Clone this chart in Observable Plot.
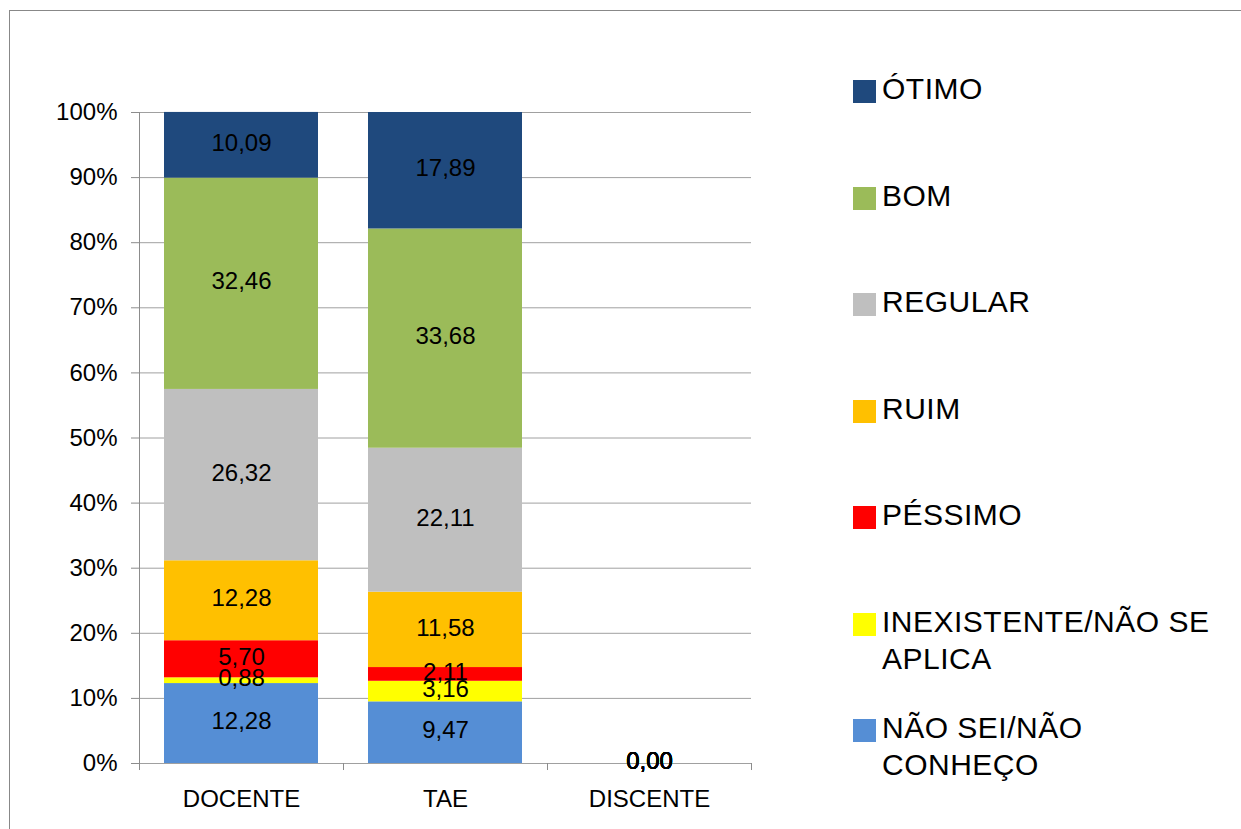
<!DOCTYPE html>
<html>
<head>
<meta charset="utf-8">
<script src="https://cdn.jsdelivr.net/npm/d3@7"></script>
<script src="https://cdn.jsdelivr.net/npm/@observablehq/plot@0.6"></script>
<style>
  html, body { margin: 0; padding: 0; background: #fff; }
  #wrap { position: relative; width: 1241px; height: 829px; overflow: hidden; font-family: "Liberation Sans", Arial, sans-serif; }
  #border { position: absolute; left: 9px; top: 10px; width: 1400px; height: 1000px; border-left: 1px solid #888; border-top: 1px solid #888; }
  #legend { position: absolute; left: 853px; top: 80px; }
  .item { position: relative; height: 106.5px; }
  .sw { position: absolute; left: 0; top: 0; width: 23px; height: 23px; }
  .lab { position: absolute; left: 29px; top: -10px; font-size: 30px; line-height: 37px; letter-spacing: 0.5px; color: #000; white-space: nowrap; }
  svg { position: absolute; left: 0; top: 0; }
</style>
</head>
<body>
<div id="wrap"><div id="border"></div></div>
<script>
const groups = ["DOCENTE", "TAE", "DISCENTE"];
const categories = ["NÃO SEI/NÃO CONHEÇO", "INEXISTENTE/NÃO SE APLICA", "PÉSSIMO", "RUIM", "REGULAR", "BOM", "ÓTIMO"];
const legendLabels = [["ÓTIMO"], ["BOM"], ["REGULAR"], ["RUIM"], ["PÉSSIMO"], ["INEXISTENTE/NÃO SE", "APLICA"], ["NÃO SEI/NÃO", "CONHEÇO"]];
const legendOrder = ["ÓTIMO", "BOM", "REGULAR", "RUIM", "PÉSSIMO", "INEXISTENTE/NÃO SE APLICA", "NÃO SEI/NÃO CONHEÇO"];
const docente = [12.28, 0.88, 5.70, 12.28, 26.32, 32.46, 10.09];
const tae = [9.47, 3.16, 2.11, 11.58, 22.11, 33.68, 17.89];
const discente = [0, 0, 0, 0, 0, 0, 0];
const colors = ["#558ED5", "#FFFF00", "#FF0000", "#FFC000", "#BFBFBF", "#9BBB59", "#1F497D"];
const yTicks = [0, 10, 20, 30, 40, 50, 60, 70, 80, 90, 100];

const series = [docente, tae, discente];
const data = groups.flatMap((g, gi) => categories.map((c, ci) => ({group: g, category: c, value: series[gi][ci]})));
const fmt = v => v.toFixed(2).replace(".", ",");

const chart = Plot.plot({
  width: 1241,
  height: 829,
  marginLeft: 139,
  marginRight: 490,
  marginTop: 112,
  marginBottom: 66,
  style: {fontFamily: "'Liberation Sans', Arial, sans-serif", background: "transparent", overflow: "visible"},
  x: {domain: groups, paddingInner: 0.245, paddingOuter: 0.1225, label: null},
  y: {domain: [0, 100], label: null},
  color: {domain: categories, range: colors},
  marks: [
    Plot.ruleY(yTicks, {stroke: "#a0a0a0", strokeWidth: 1}),
    Plot.barY(data, Plot.stackY({x: "group", y: "value", fill: "category", order: categories})),
    Plot.frame({anchor: "left", stroke: "#8c8c8c"}),
    Plot.ruleX(groups, {x: d => d, dx: -102, y1: 0, y2: -1.08, stroke: "#8c8c8c"}),
    Plot.ruleX([groups[groups.length - 1]], {x: d => d, dx: 102, y1: 0, y2: -1.08, stroke: "#8c8c8c"}),
    Plot.axisY({ticks: yTicks, tickFormat: d => d + "%", tickSize: 8, tickPadding: 14, fontSize: 24, stroke: "#8c8c8c", fill: "#000", label: null}),
    Plot.axisX({tickSize: 0, tickPadding: 26, fontSize: 24, fill: "#000", label: null}),
    Plot.text(data, Plot.stackY({x: "group", y: "value", z: "category", order: categories, text: d => fmt(d.value), fontSize: 24, fill: "#000", dy: -2}))
  ]
});
const wrap = document.getElementById("wrap");
wrap.appendChild(chart);

const legend = document.createElement("div");
legend.id = "legend";
legendOrder.forEach((c, i) => {
  const item = document.createElement("div");
  item.className = "item";
  const sw = document.createElement("div");
  sw.className = "sw";
  sw.style.background = colors[categories.indexOf(c)];
  const lab = document.createElement("div");
  lab.className = "lab";
  lab.innerHTML = legendLabels[i].join("<br>");
  item.appendChild(sw);
  item.appendChild(lab);
  legend.appendChild(item);
});
wrap.appendChild(legend);
</script>
</body>
</html>
